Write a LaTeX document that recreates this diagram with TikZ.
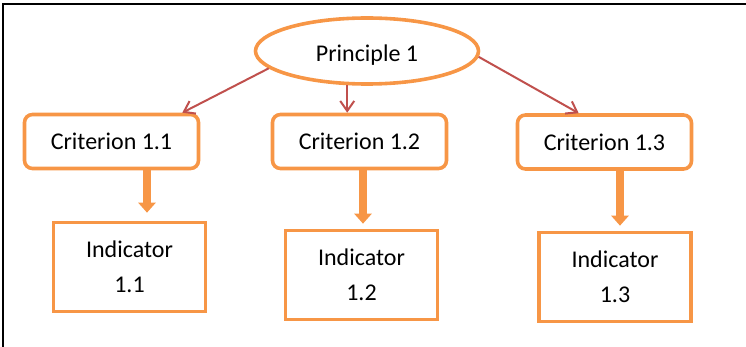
\documentclass[tikz,border=0pt]{standalone}
\usepackage{fontspec}
\setmainfont{Carlito}
\usetikzlibrary{arrows.meta,shapes.geometric}
\definecolor{accentorange}{HTML}{F79646}
\definecolor{linkred}{HTML}{C0504D}
\tikzset{
  principle/.style={ellipse, draw=accentorange, line width=1.8pt, inner sep=0pt,
    minimum width=111.5pt, minimum height=33pt, font=\fontsize{12}{14}\selectfont},
  criterion/.style={rectangle, rounded corners=4pt, draw=accentorange, line width=1.8pt,
    inner sep=0pt, minimum width=87pt, minimum height=27pt, font=\fontsize{12}{14}\selectfont},
  indicator/.style={rectangle, draw=accentorange, line width=1.8pt, inner sep=0pt,
    minimum width=76pt, minimum height=44.5pt, align=center,
    font=\fontsize{12}{17.5}\selectfont},
  link/.style={draw=linkred, line width=1pt, -{Straight Barb[length=5pt,width=7pt]}},
  flow/.style={draw=accentorange, line width=4pt,
    -{Triangle[length=5pt,width=8.5pt]}}
}
\begin{document}
\begin{tikzpicture}[x=0.5pt,y=-0.5pt]
\useasboundingbox (0,0) rectangle (746,347);
% frame
\draw[line width=1.1pt, black] (3,347) -- (3,4) -- (746,4);

\node[principle] (p) at (367,51) {\raisebox{-5.5pt}[0pt][0pt]{Principle 1}};

\node[criterion] (c1) at (111.5,141.5) {Criterion 1.1};
\node[criterion] (c2) at (359.5,141.5) {Criterion 1.2};
\node[criterion] (c3) at (604.5,142) {Criterion 1.3};

\node[indicator] (i1) at (129.5,267) {Indicator\\1.1};
\node[indicator] (i2) at (361.5,275) {Indicator\\1.2};
\node[indicator] (i3) at (615,277) {Indicator\\1.3};

% principle to criteria
\draw[link] (p.190) -- ([xshift=-9pt]c1.north east);
\draw[link] (p.240) -- (p.240 |- c2.north);
\draw[link] (p.-3) -- ([xshift=31.5pt]c3.north west);

% criteria to indicators
\coordinate (a1) at (147,0);
\coordinate (a2) at (363,0);
\coordinate (a3) at (620,0);
\draw[flow, shorten >=4pt] (c1.south -| a1) -- (i1.north -| a1);
\draw[flow, shorten >=2.5pt] (c2.south -| a2) -- (i2.north -| a2);
\draw[flow, shorten >=2.5pt] (c3.south -| a3) -- (i3.north -| a3);
\end{tikzpicture}
\end{document}
